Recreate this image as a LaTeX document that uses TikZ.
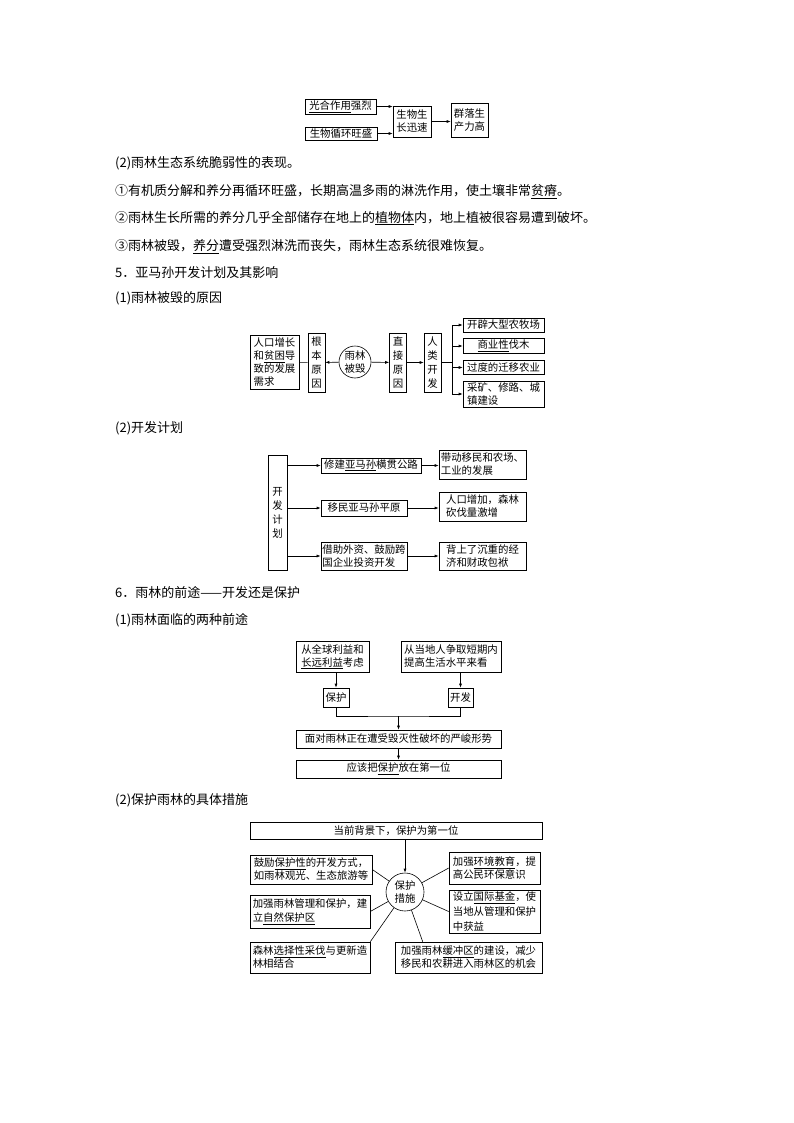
\documentclass[tikz,border=0pt]{standalone}
\usepackage{fontspec}
\setmainfont{Noto Sans CJK SC}
\usetikzlibrary{arrows.meta,calc}
\newcommand{\udl}[1]{\underline{#1}}
\tikzset{
	txt/.style={anchor=west, inner sep=0pt, font=\fontsize{13}{15}\selectfont},
	box/.style={draw, line width=0.6pt, inner sep=1.5pt, align=left, font=\fontsize{10.4}{13}\selectfont},
	vbox/.style={box, align=center, minimum width=17pt, font=\fontsize{10.4}{14}\selectfont},
	ring/.style={draw, circle, line width=0.6pt, inner sep=0pt, align=center, font=\fontsize{10.4}{13}\selectfont},
	arr/.style={-{Latex[length=4pt,width=3pt]}},
	ln/.style={line width=0.6pt},
}
\begin{document}
\begin{tikzpicture}[x=1pt, y=-1pt]
	\useasboundingbox (0,0) rectangle (794,1123);
	\node[box, minimum width=71pt, minimum height=12pt] (g1) at (340.5,106.5) {\udl{光合作用}强烈};
	\node[box, minimum width=72pt, minimum height=12pt] (g2) at (341,133.5) {生物循环旺盛};
	\node[box, minimum width=38pt, minimum height=31pt] (g3) at (412,121.5) {生物生\\长迅速};
	\node[box, minimum width=37pt, minimum height=34pt] (g4) at (469.5,120) {群落生\\产力高};
	\draw[ln, arr] (g1) -- (g1 -| g3.west);
	\draw[ln, arr] (g2) -- (g2 -| g3.west);
	\draw[ln, arr] (g3) -- (g3 -| g4.west);

	\node[txt] (t1) at (115,163) {(2)雨林生态系统脆弱性的表现。};
	\node[txt] (t2) at (115,192) {①有机质分解和养分再循环旺盛，长期高温多雨的淋洗作用，使土壤非常\udl{贫瘠}。};
	\node[txt] (t3) at (115,218) {②雨林生长所需的养分几乎全部储存在地上的\udl{植物体}内，地上植被很容易遭到破坏。};
	\node[txt] (t4) at (115,247) {③雨林被毁，\udl{养分}遭受强烈淋洗而丧失，雨林生态系统很难恢复。};
	\node[txt] (t5) at (115,273) {5．亚马孙开发计划及其影响};
	\node[txt] (t6) at (115,298) {(1)雨林被毁的原因};

	\node[box, minimum width=49pt, minimum height=54pt] (a1) at (274.5,362) {人口增长\\和\udl{贫困}导\\致的发展\\需求};
	\node[vbox, minimum height=59pt] (a2) at (316.5,362.5) {根\\本\\原\\因};
	\node[ring, minimum size=32pt] (a3) at (355,362) {雨林\\被毁};
	\node[vbox, minimum height=59pt] (a4) at (398,362.5) {直\\接\\原\\因};
	\node[vbox, minimum height=59pt] (a5) at (432.5,362.5) {人\\类\\开\\发};
	\draw[ln] (a1) -- (a2);
	\draw[ln, arr] (a3) -- (a2);
	\draw[ln, arr] (a3) -- (a4);
	\draw[ln, arr] (a4) -- (a5);
	\node[box, minimum width=81pt, minimum height=14pt] (b1) at (503.5,325) {开辟大型农牧场};
	\node[box, minimum width=81pt, minimum height=14pt, align=center] (b2) at (503.5,346) {\udl{商业性}伐木};
	\node[box, minimum width=81pt, minimum height=14pt] (b3) at (503.5,367.5) {过度的迁移农业};
	\node[box, minimum width=81pt, minimum height=26pt] (b4) at (503.5,394) {采矿、修路、城\\镇建设};
	\coordinate (bus) at (452,362.5);
	\draw[ln] (a5) -- (bus);
	\draw[ln] (bus |- b1) -- (bus |- b4);
	\foreach \b in {b1,b2,b3,b4}
		\draw[ln, arr] (bus |- \b) -- (\b);

	\node[txt] (t7) at (115,428) {(2)开发计划};
	\node[vbox, minimum width=19pt, minimum height=115pt] (p0) at (277.5,512.5) {开\\发\\计\\划};
	\node[box, minimum width=100pt, minimum height=15pt] (p1) at (371,465.5) {修建\udl{亚马孙}横贯公路};
	\node[box, minimum width=86pt, minimum height=16pt] (p2) at (364,508) {移民亚马孙平原};
	\node[box, minimum width=86pt, minimum height=28pt] (p3) at (364,556) {借助外资、鼓励跨\\国企业投资开发};
	\node[box, minimum width=87pt, minimum height=29pt] (q1) at (482.5,464.5) {带动移民和农场、\\工业的发展};
	\node[box, minimum width=87pt, minimum height=29pt] (q2) at (482.5,506.5) {人口增加，森林\\砍伐量激增};
	\node[box, minimum width=87pt, minimum height=28pt] (q3) at (482.5,556) {背上了沉重的经\\济和财政包袱};
	\foreach \i in {1,2,3} {
		\draw[ln, arr] (p0.east |- p\i) -- (p\i);
		\draw[ln, arr] (p\i) -- (p\i -| q\i.west);
	}

	\node[txt] (t8) at (115,593) {6．雨林的前途——开发还是保护};
	\node[txt] (t9) at (115,620) {(1)雨林面临的两种前途};
	\node[box, minimum width=73pt, minimum height=31pt, align=center] (r1) at (332.5,656.5) {从全球利益和\\\udl{长远利益}考虑};
	\node[box, minimum width=100pt, minimum height=31pt] (r2) at (451,656.5) {从当地人争取短期内\\提高生活水平来看};
	\node[box, minimum width=26pt, minimum height=19pt] (s1) at (336,697.5) {保护};
	\node[box, minimum width=25pt, minimum height=19pt] (s2) at (460.5,697.5) {开发};
	\draw[ln, arr] (s1 |- r1.south) -- (s1);
	\draw[ln, arr] (s2 |- r2.south) -- (s2);
	\coordinate (m) at (398.5,716);
	\draw[ln] (s1) |- (m) -| (s2);
	\node[box, minimum width=205pt, minimum height=18pt, align=center] (u1) at (398.5,739) {面对雨林正在遭受毁灭性破坏的严峻形势};
	\node[box, minimum width=205pt, minimum height=18pt, align=center] (u2) at (398.5,769) {应该把\udl{保护}放在第一位};
	\draw[ln, arr] (m) -- (u1);
	\draw[ln, arr] (u1) -- (u2);

	\node[txt] (t10) at (115,800) {(2)保护雨林的具体措施};
	\node[box, minimum width=292pt, minimum height=17pt, align=center] (v0) at (396,830.5) {当前背景下，保护为第一位};
	\node[ring, minimum size=38pt] (vc) at (405,892) {保护\\措施};
	\draw[ln, arr] (vc |- v0.south) -- (vc);
	\node[box, minimum width=122pt, minimum height=29pt] (l1) at (311,869.5) {鼓励\udl{保护性}的开发方式，\\如雨林观光、生态旅游等};
	\node[box, minimum width=120pt, minimum height=33pt, font=\fontsize{10.4}{14.5}\selectfont] (l2) at (310,911.5) {加强雨林管理和保护，建\\立\udl{自然保护区}};
	\node[box, minimum width=120pt, minimum height=31pt] (l3) at (310,957.5) {森林\udl{选择性采伐}与更新造\\林相结合};
	\node[box, minimum width=91pt, minimum height=32pt] (r1b) at (494.5,868) {加强\udl{环境教育}，提\\高公民环保意识};
	\node[box, minimum width=91pt, minimum height=43pt, font=\fontsize{10.4}{14.5}\selectfont] (r2b) at (494.5,911.5) {设立\udl{国际基金}，使\\当地从管理和保护\\中获益};
	\node[box, minimum width=147pt, minimum height=31pt] (r3b) at (468.5,957.5) {加强雨林\udl{缓冲区}的建设，减少\\移民和农耕进入雨林区的机会};
	\draw[ln] (vc) -- (l1.east);
	\draw[ln] (vc) -- (l2.east);
	\draw[ln] (vc) -- (l3.north east);
	\draw[ln] (vc) -- (r1b.west);
	\draw[ln] (vc) -- (r2b.west);
	\draw[ln] (vc) -- ($(r3b.north west)+(28,0)$);
\end{tikzpicture}
\end{document}
